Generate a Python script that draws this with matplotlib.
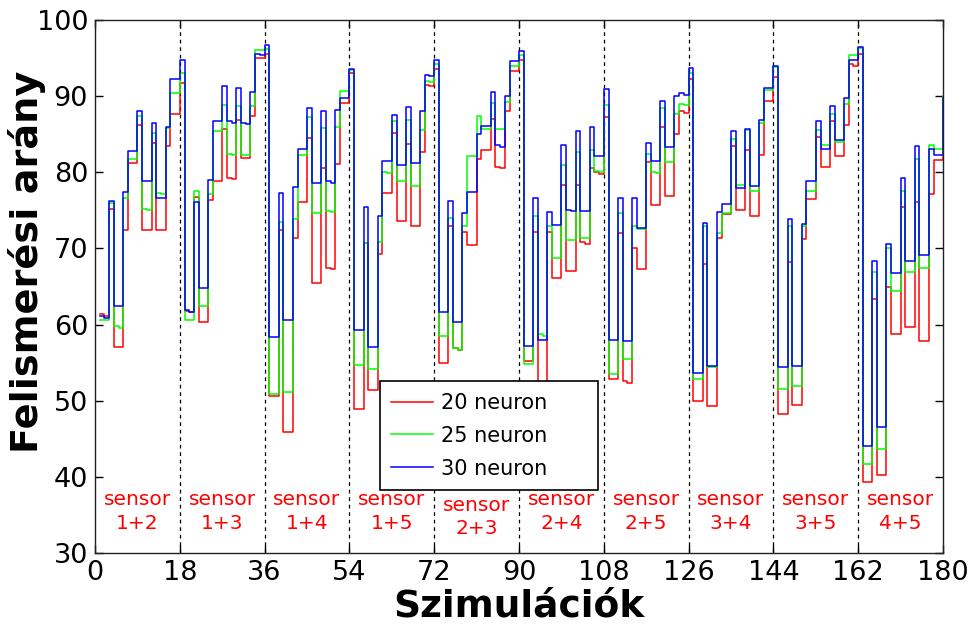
import numpy as np
import matplotlib
matplotlib.use("Agg")
import matplotlib.pyplot as plt

# x = simulation number 1..180 (MATLAB stairs)
sim = np.arange(1, 181)

neuron20 = [
    61.4, 61.1, 75.2, 57.0, 57.0, 72.4, 81.2, 81.2, 86.2, 72.4, 72.4, 83.8, 72.4, 72.4, 83.4, 87.7, 87.7, 91.7,
    61.8, 61.6, 76.8, 60.4, 60.4, 76.3, 78.9, 78.9, 85.7, 79.3, 79.1, 86.9, 81.9, 81.9, 87.4, 95.0, 95.0, 95.6,
    50.6, 50.6, 72.4, 45.9, 45.9, 71.4, 76.1, 76.1, 84.5, 65.5, 65.5, 80.6, 67.4, 67.3, 81.1, 89.1, 89.1, 93.0,
    48.9, 48.9, 70.7, 51.4, 51.4, 69.3, 77.3, 77.3, 85.1, 73.6, 73.6, 83.7, 73.0, 73.0, 82.6, 91.5, 91.3, 93.6,
    55.0, 55.0, 72.9, 56.9, 56.7, 72.2, 70.4, 70.4, 81.8, 82.9, 82.9, 87.0, 80.7, 80.5, 88.0, 93.3, 93.3, 94.8,
    55.2, 55.2, 72.1, 50.5, 50.5, 72.1, 66.1, 66.1, 78.3, 67.1, 67.1, 78.3, 70.8, 70.6, 80.6, 80.0, 79.8, 87.2,
    52.9, 52.9, 72.0, 52.6, 52.3, 70.0, 67.3, 67.3, 81.3, 75.7, 75.7, 85.9, 76.9, 76.9, 85.0, 88.0, 87.8, 92.3,
    49.9, 49.9, 67.9, 49.3, 49.3, 71.4, 74.5, 74.5, 83.5, 75.0, 75.0, 82.9, 74.2, 74.2, 82.3, 89.3, 89.3, 92.5,
    48.2, 48.2, 68.2, 49.5, 49.5, 71.2, 76.5, 76.5, 84.6, 80.7, 80.7, 86.7, 82.2, 82.2, 86.2, 94.2, 94.0, 95.6,
    39.3, 39.3, 63.3, 40.3, 40.3, 64.9, 58.8, 58.8, 75.4, 59.7, 59.7, 76.1, 57.9, 57.9, 77.2, 81.6, 81.6, 82.0,
]

neuron25 = [
    60.6, 60.6, 76.0, 59.8, 59.6, 76.6, 81.8, 81.8, 87.4, 75.2, 75.0, 85.1, 77.3, 77.1, 85.8, 90.4, 90.4, 93.0,
    60.6, 60.6, 77.5, 62.4, 62.4, 77.2, 85.4, 85.4, 88.9, 82.4, 82.3, 88.7, 82.3, 82.3, 88.7, 96.0, 96.0, 96.2,
    50.9, 50.9, 73.5, 51.1, 51.1, 73.8, 82.3, 82.3, 87.3, 74.6, 74.6, 85.8, 74.9, 74.8, 85.9, 90.7, 90.7, 93.4,
    54.7, 54.7, 70.7, 54.2, 54.2, 70.8, 80.1, 79.9, 86.7, 78.9, 78.9, 86.9, 78.2, 78.2, 85.5, 92.0, 91.8, 94.2,
    58.5, 58.5, 74.0, 56.9, 56.7, 72.9, 82.1, 82.1, 87.4, 85.7, 85.7, 89.1, 85.7, 85.7, 89.2, 94.0, 94.0, 95.4,
    54.8, 54.8, 74.2, 58.7, 58.5, 73.0, 68.8, 68.8, 81.0, 71.1, 71.1, 82.6, 71.4, 71.4, 82.9, 80.2, 80.0, 88.9,
    53.5, 53.5, 74.6, 55.5, 55.5, 72.9, 72.5, 72.5, 82.4, 80.1, 79.9, 88.4, 81.3, 81.3, 87.7, 89.0, 88.8, 93.0,
    52.8, 52.8, 73.0, 54.4, 54.4, 72.0, 74.6, 74.6, 84.4, 78.3, 78.3, 85.5, 77.5, 77.5, 86.5, 90.8, 90.8, 93.8,
    51.5, 51.5, 73.0, 51.9, 51.9, 73.0, 77.6, 77.6, 85.6, 83.6, 83.6, 87.7, 84.0, 84.0, 89.0, 95.4, 95.4, 96.3,
    41.7, 41.7, 66.9, 43.6, 43.6, 70.0, 64.4, 64.4, 77.6, 66.9, 66.9, 81.8, 67.4, 67.4, 83.6, 83.0, 83.0, 90.0,
]

neuron30 = [
    61.1, 60.9, 76.2, 62.4, 62.4, 77.4, 82.8, 82.8, 88.0, 78.8, 78.8, 86.5, 76.6, 76.6, 85.9, 92.2, 92.2, 94.8,
    61.9, 61.7, 76.1, 64.8, 64.8, 79.0, 86.7, 86.7, 91.3, 86.7, 86.5, 91.1, 86.5, 86.4, 90.5, 95.6, 95.4, 96.7,
    58.4, 58.4, 77.3, 60.6, 60.6, 78.1, 83.0, 83.0, 88.5, 78.6, 78.6, 88.0, 78.8, 78.6, 88.2, 89.8, 89.8, 93.6,
    59.3, 59.3, 75.5, 57.0, 57.0, 74.2, 81.5, 81.5, 87.5, 81.0, 81.0, 88.6, 81.2, 81.2, 88.0, 92.8, 92.6, 94.8,
    61.6, 61.6, 76.2, 60.3, 60.3, 74.6, 77.4, 77.4, 85.0, 86.1, 86.1, 90.5, 83.6, 83.3, 90.0, 94.6, 94.6, 95.9,
    57.2, 57.2, 76.6, 58.0, 58.0, 74.8, 73.1, 73.1, 83.6, 75.1, 74.9, 85.4, 74.9, 74.9, 85.9, 82.2, 82.2, 91.0,
    58.0, 58.0, 76.6, 57.8, 57.8, 76.6, 72.7, 72.7, 83.8, 81.5, 81.5, 89.4, 83.3, 83.3, 90.0, 90.4, 90.2, 93.7,
    53.7, 53.7, 73.4, 54.5, 54.5, 74.8, 75.9, 75.9, 85.4, 77.9, 77.9, 85.7, 78.2, 78.2, 86.9, 91.1, 91.1, 94.0,
    54.4, 54.4, 73.9, 54.5, 54.5, 73.2, 78.8, 78.8, 86.7, 83.0, 83.0, 88.7, 84.2, 84.2, 89.8, 94.8, 94.7, 96.5,
    44.1, 44.1, 68.4, 46.6, 46.6, 70.6, 66.8, 66.8, 79.2, 68.4, 68.4, 83.4, 69.1, 69.1, 83.1, 82.3, 82.3, 89.7,
]

series_labels = ["20 neuron", "25 neuron", "30 neuron"]
series_colors = ["#ff0000", "#00ff00", "#0000ff"]

group_bounds = [18, 36, 54, 72, 90, 108, 126, 144, 162]
group_names = ["1+2", "1+3", "1+4", "1+5", "2+3", "2+4", "2+5", "3+4", "3+5", "4+5"]
group_centers = [9, 27, 45, 63, 81, 99, 117, 135, 153, 171]

x_ticks = [0, 18, 36, 54, 72, 90, 108, 126, 144, 162, 180]
y_ticks = [30, 40, 50, 60, 70, 80, 90, 100]

plt.rcParams['font.family'] = ['DejaVu Sans']

fig = plt.figure(figsize=(9.74, 6.28), dpi=100)
ax = fig.add_axes([95/974, 75/628, 848/974, 533/628])

for xb in group_bounds:
    ax.plot([xb, xb], [30, 100], color="black", linestyle=(0, (3, 3)), linewidth=0.9, zorder=1)

for vals, lab, col in zip([neuron20, neuron25, neuron30], series_labels, series_colors):
    ax.step(sim, vals, where="post", color=col, linewidth=1.1, label=lab, zorder=2)

for cx, name in zip(group_centers, group_names):
    dy = -0.7 if name == "2+3" else 0.0
    ax.text(cx, 37.0 + dy, "sensor", color="#ff0000", fontsize=14.5, ha="center", va="center")
    ax.text(cx, 33.9 + dy, name, color="#ff0000", fontsize=14.5, ha="center", va="center")

ax.set_xlim(0, 180)
ax.set_ylim(30, 100)
ax.set_xticks(x_ticks)
ax.set_yticks(y_ticks)
ax.tick_params(direction="in", length=6, width=1, top=True, right=True, labelsize=19.5, pad=5)
for s in ax.spines.values():
    s.set_linewidth(1.0)
    s.set_color("#222222")

ax.set_xlabel("Szimulációk", fontsize=27, fontweight="bold", labelpad=2)
ax.set_ylabel("Felismerési arány", fontsize=27.5, fontweight="bold")
ax.yaxis.set_label_coords(-0.058, 0.546)

leg = ax.legend(loc="upper left", bbox_to_anchor=(0.336, 0.322, 0.257, 0.0), mode="expand",
                fontsize=15, frameon=True, fancybox=False, shadow=False, framealpha=1,
                edgecolor="black", borderpad=0.55, labelspacing=0.62, handlelength=2.0,
                handletextpad=0.4, borderaxespad=0.0)
leg.get_frame().set_linewidth(1.2)
leg.set_zorder(5)

fig.savefig("out.png", dpi=100)
